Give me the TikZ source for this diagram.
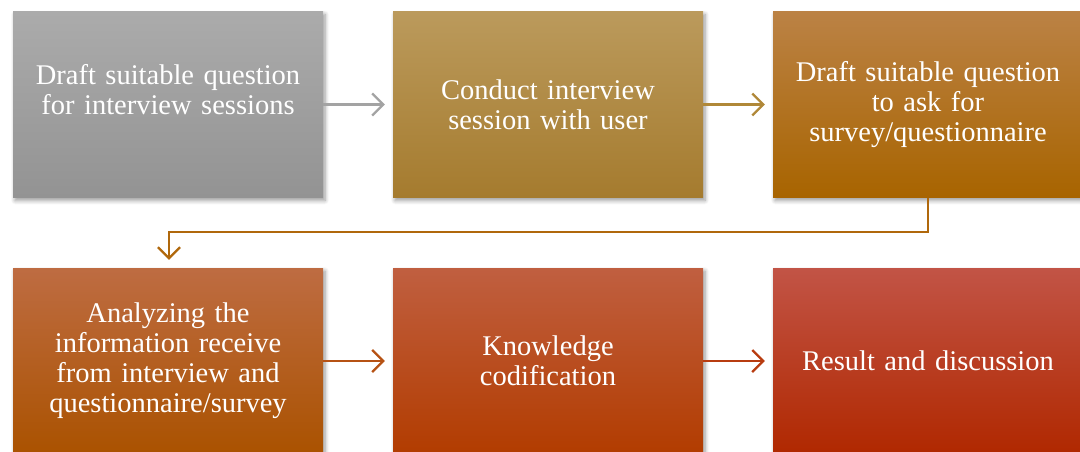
\documentclass[tikz,border=0pt]{standalone}
\usepackage{fontspec}
\setmainfont{Liberation Serif}
\usetikzlibrary{arrows.meta,shadows.blur,positioning}
\tikzset{
  stepbox/.style={minimum width=310pt, minimum height=186pt, inner sep=0pt,
    text width=300pt, align=center, text=white,
    font=\fontsize{28.5}{30}\selectfont,
    blur shadow={shadow xshift=2pt, shadow yshift=-3pt, shadow blur steps=6, shadow blur radius=4pt, shadow opacity=40}},
  flow/.style={line width=2.2pt, -{Straight Barb[length=11pt,width=22pt,line width=2.2pt]}, shorten >=8pt}
}
\definecolor{a1}{HTML}{ABABAB}\definecolor{b1}{HTML}{939393}
\definecolor{a2}{HTML}{BB9A5C}\definecolor{b2}{HTML}{A57B2E}
\definecolor{a3}{HTML}{BB8245}\definecolor{b3}{HTML}{A86400}
\definecolor{a4}{HTML}{BE6C42}\definecolor{b4}{HTML}{AA5200}
\definecolor{a5}{HTML}{C05F40}\definecolor{b5}{HTML}{B23C00}
\definecolor{a6}{HTML}{C25446}\definecolor{b6}{HTML}{B02800}
\definecolor{c1}{HTML}{A3A3A3}
\definecolor{c2}{HTML}{B08838}
\definecolor{c3}{HTML}{B0680C}
\definecolor{c4}{HTML}{B65214}
\definecolor{c5}{HTML}{B83C10}
\begin{document}
\begin{tikzpicture}[x=1pt,y=-1pt]
\useasboundingbox (0,0) rectangle (1080,452);
\clip (0,0) rectangle (1080,452);
\node[stepbox, top color=a1, bottom color=b1] (n1) at (168,104.5) {Draft suitable question\\for interview sessions\\\mbox{}};
\node[stepbox, top color=a2, bottom color=b2] (n2) at (548,104.5) {Conduct interview\\session with user};
\node[stepbox, top color=a3, bottom color=b3] (n3) at (928,104.5) {Draft suitable question\\to ask for\\survey/questionnaire};
\node[stepbox, top color=a4, bottom color=b4] (n4) at (168,361) {Analyzing the\\information receive\\from interview and\\questionnaire/survey};
\node[stepbox, top color=a5, bottom color=b5] (n5) at (548,361) {Knowledge\\codification};
\node[stepbox, top color=a6, bottom color=b6] (n6) at (928,361) {Result and discussion};
\draw[flow, c1] (n1.east) -- (n2.west);
\draw[flow, c2] (n2.east) -- (n3.west);
\draw[flow, c3] (n3.south) -- ++(0,34) -| ([xshift=1pt]n4.north);
\draw[flow, c4] (n4.east) -- (n5.west);
\draw[flow, c5] (n5.east) -- (n6.west);
\end{tikzpicture}
\end{document}
